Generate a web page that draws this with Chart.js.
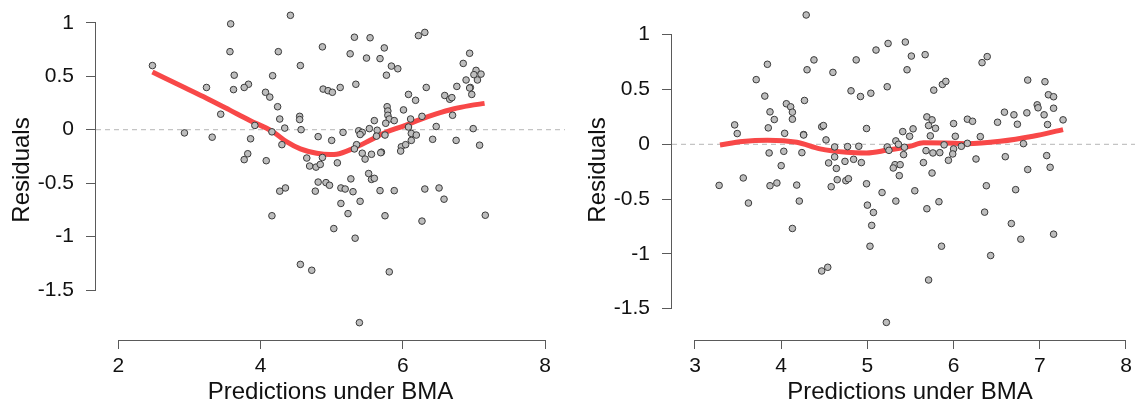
<!DOCTYPE html>
<html>
<head>
<meta charset="utf-8">
<script src="https://cdn.jsdelivr.net/npm/chart.js@4.4.1/dist/chart.umd.min.js"></script>
<style>
  html, body { margin: 0; padding: 0; background: #fff; }
  body { width: 1135px; height: 404px; overflow: hidden; position: relative; }
  canvas { position: absolute; top: 0; }
  #left { left: 0; }
  #right { left: 576px; }
</style>
</head>
<body>
<canvas id="left" width="576" height="404"></canvas>
<canvas id="right" width="588" height="404"></canvas>
<script>
// left panel: residuals vs predictions
const leftX = [2.48,4.42,3.58,3.57,4.25,4.87,4.56,3.63,4.17,3.83,3.77,3.62,3.24,4.07,4.13,4.88,4.95,4.24,3.44,4.55,
  4.55,4.27,3.92,4.34,4.57,4.16,2.93,3.32,3.86,4.81,5.00,4.30,3.82,3.77,4.08,4.65,4.87,4.69,4.78,4.84,
  4.81,4.92,4.97,4.27,4.35,4.77,4.16,4.56,4.72,
  5.32,5.54,5.26,5.74,5.49,5.68,6.22,6.31,5.84,5.93,5.77,6.94,6.85,7.03,7.10,7.00,7.05,6.89,6.95,6.94,
  6.97,5.01,5.12,5.34,6.33,6.76,6.08,6.18,6.59,6.66,6.69,5.78,5.79,5.79,5.81,5.76,5.88,6.01,6.11,6.27,
  5.60,6.70,6.47,6.99,5.16,5.38,5.43,5.40,5.53,5.64,5.75,5.63,6.08,6.12,6.19,6.12,6.42,6.75,7.08,5.35,
  5.32,5.98,5.97,6.04,5.70,5.69,5.43,5.56,5.47,5.08,5.27,5.52,5.56,5.60,5.13,5.19,5.30,5.68,5.88,6.31,
  6.51,6.58,5.13,5.40,5.23,5.75,6.27,7.16,5.03,5.33,5.81,5.39];
const leftY = [0.60,1.07,0.99,0.73,0.73,0.775,0.60,0.51,0.505,0.425,0.395,0.375,0.395,0.35,0.305,0.38,0.365,0.215,0.145,0.125,
  0.095,0.10,0.04,0.015,0.0,-0.02,-0.03,-0.07,-0.085,-0.065,-0.10,-0.14,-0.225,-0.28,-0.29,-0.265,-0.26,-0.34,-0.35,-0.325,
  -0.49,-0.495,-0.52,-0.575,-0.545,-0.575,-0.805,-1.26,-1.315,
  0.865,0.86,0.71,0.765,0.67,0.665,0.88,0.91,0.595,0.57,0.51,0.715,0.62,0.555,0.52,0.515,0.465,0.465,0.395,0.39,
  0.33,0.35,0.395,0.425,0.395,0.405,0.33,0.275,0.32,0.285,0.30,0.215,0.175,0.135,0.10,0.06,0.085,0.185,0.10,0.125,
  0.085,0.135,0.03,0.01,-0.025,-0.01,-0.025,-0.045,0.01,-0.005,-0.05,-0.06,0.025,-0.035,-0.05,-0.10,-0.09,-0.10,-0.145,-0.14,
  -0.18,-0.16,-0.20,-0.14,-0.21,-0.215,-0.22,-0.23,-0.275,-0.31,-0.46,-0.41,-0.465,-0.455,-0.545,-0.555,-0.58,-0.57,-0.57,-0.555,
  -0.545,-0.65,-0.69,-0.67,-0.785,-0.805,-0.855,-0.80,-0.925,-1.015,-1.33,-1.805];
const leftFitX = [2.48,2.93,3.24,3.55,3.85,4.16,4.37,4.56,4.79,4.98,5.07,5.30,5.54,5.77,6.01,6.24,6.47,6.71,6.94,7.15];
const leftFitY = [0.54,0.395,0.295,0.19,0.086,-0.013,-0.115,-0.18,-0.22,-0.232,-0.229,-0.176,-0.099,-0.022,0.034,0.095,0.148,0.194,0.225,0.246];
const leftXTicks = [2, 4, 6, 8];
const leftYTicks = [-1.5, -1, -0.5, 0, 0.5, 1];
const leftXRange = [1.6864, 8.2809];
const leftYRange = [-1.9673, 1.2133];

// right panel
const rightX = [4.29,3.84,3.71,4.38,4.30,4.60,4.87,5.10,5.24,5.44,5.51,5.46,3.81,4.81,4.92,5.04,5.23,4.27,4.06,4.11,
  4.13,4.13,3.87,3.92,3.46,3.49,3.85,4.04,4.26,4.26,4.47,4.49,4.99,4.52,5.41,5.49,4.62,4.77,4.90,5.23,
  5.25,5.33,5.36,5.43,3.86,4.03,4.24,4.62,4.55,4.74,4.84,4.93,4.00,4.64,5.42,5.32,5.38,5.30,5.37,3.56,
  3.28,3.87,3.95,4.18,4.58,4.65,4.75,4.78,4.99,5.17,5.33,3.62,4.21,5.00,5.07,5.05,4.13,5.03,4.47,4.54,5.22,
  5.67,6.33,6.39,5.77,5.87,5.91,6.86,7.06,7.10,7.16,6.97,6.98,7.16,7.05,7.09,7.27,6.59,6.70,6.85,6.74,
  6.51,6.16,6.22,5.69,5.75,5.71,5.79,6.00,6.02,6.31,5.73,5.53,5.89,6.09,6.16,6.81,5.68,5.76,5.84,6.00,
  5.99,5.65,5.94,6.26,6.60,7.08,7.12,6.86,5.75,5.55,6.38,6.72,5.69,5.83,6.36,6.67,6.78,7.16,5.86,6.43,5.71];
const rightY = [1.18,0.73,0.59,0.77,0.68,0.656,0.77,0.86,0.92,0.933,0.805,0.68,0.44,0.488,0.436,0.466,0.525,0.40,0.37,0.342,
  0.293,0.229,0.296,0.226,0.177,0.098,0.15,0.10,0.089,0.085,0.16,0.171,0.144,0.04,0.116,0.073,-0.024,-0.021,-0.018,-0.024,
  -0.055,0.031,0.0,-0.027,-0.079,-0.064,-0.076,-0.115,-0.17,-0.156,-0.137,-0.167,-0.195,-0.22,-0.094,-0.186,-0.186,-0.216,-0.286,-0.307,
  -0.375,-0.378,-0.353,-0.372,-0.387,-0.323,-0.332,-0.314,-0.36,-0.44,-0.518,-0.536,-0.518,-0.555,-0.622,-0.74,-0.768,-0.93,-1.156,-1.122,-1.625,
  0.818,0.745,0.80,0.494,0.546,0.574,0.586,0.571,0.452,0.434,0.36,0.333,0.329,0.269,0.18,0.223,0.293,0.269,0.287,0.183,
  0.201,0.229,0.21,0.25,0.223,0.171,0.146,0.189,0.073,0.07,0.077,0.141,-0.005,-0.018,0.009,0.006,-0.058,-0.079,-0.076,-0.042,
  -0.088,-0.167,-0.146,-0.134,-0.113,-0.103,-0.21,-0.23,-0.262,-0.424,-0.378,-0.414,-0.588,-0.524,-0.619,-0.723,-0.866,-0.82,-0.93,-1.015,-1.238];
const rightFitX = [3.29,3.55,3.84,4.18,4.45,4.76,4.99,5.22,5.49,5.65,5.90,6.15,6.54,6.92,7.27];
const rightFitY = [-0.006,0.025,0.037,0.018,-0.042,-0.073,-0.079,-0.055,-0.018,0.013,0.012,0.006,0.027,0.073,0.134];
const rightXTicks = [3, 4, 5, 6, 7, 8];
const rightYTicks = [-1.5, -1, -0.5, 0, 0.5, 1];
const rightXRange = [2.7332, 8.2554];
const rightYRange = [-1.7856, 1.3166];

const textColor = '#111';
const axisColor = '#5a5a5a';
Chart.defaults.font.family = '"Liberation Sans", Arial, Helvetica, sans-serif';
Chart.defaults.color = textColor;

// R style axes: the line only runs between the first and last tick
const axisLines = {
  id: 'axisLines',
  afterDraw(chart) {
    const ctx = chart.ctx;
    const xs = chart.scales.x, ys = chart.scales.y;
    const left = Math.round(chart.chartArea.left) - 0.5;
    const bottom = Math.round(chart.chartArea.bottom) + 0.5;
    ctx.save();
    ctx.strokeStyle = axisColor;
    ctx.lineWidth = 1;
    ctx.beginPath();
    ctx.moveTo(left, ys.getPixelForValue(ys.ticks[0].value));
    ctx.lineTo(left, ys.getPixelForValue(ys.ticks[ys.ticks.length - 1].value));
    ctx.moveTo(xs.getPixelForValue(xs.ticks[0].value), bottom);
    ctx.lineTo(xs.getPixelForValue(xs.ticks[xs.ticks.length - 1].value), bottom);
    ctx.stroke();
    ctx.restore();
  }
};

function makeChart(id, xs, ys, fitX, fitY, xTicks, yTicks, xRange, yRange, padRight) {
  const pts = xs.map((x, i) => ({x: x, y: ys[i]}));
  const fit = fitX.map((x, i) => ({x: x, y: fitY[i]}));
  return new Chart(document.getElementById(id), {
    type: 'scatter',
    data: {
      datasets: [
        {
          data: pts,
          pointRadius: 3.3,
          pointBackgroundColor: '#bdbdbd',
          pointBorderColor: '#3a3a3a',
          pointBorderWidth: 1,
          clip: false,
          order: 1
        },
        {
          type: 'line',
          data: fit,
          borderColor: '#f84848',
          borderWidth: 5,
          pointRadius: 0,
          cubicInterpolationMode: 'monotone',
          borderCapStyle: 'butt',
          fill: false,
          order: 2
        },
        {
          type: 'line',
          data: [{x: xRange[0], y: 0}, {x: xRange[1], y: 0}],
          borderColor: '#c4c4c4',
          borderWidth: 1.3,
          borderDash: [5, 4],
          pointRadius: 0,
          fill: false,
          order: 3
        }
      ]
    },
    options: {
      responsive: false,
      animation: false,
      events: [],
      layout: { autoPadding: false, padding: { left: 0, right: padRight, top: 0, bottom: 0 } },
      plugins: { legend: { display: false }, tooltip: { enabled: false } },
      scales: {
        x: {
          type: 'linear',
          min: xRange[0],
          max: xRange[1],
          border: { display: false },
          grid: { drawOnChartArea: false, drawTicks: true, tickLength: 9, color: axisColor },
          afterBuildTicks: s => { s.ticks = xTicks.map(v => ({value: v})); },
          afterFit: s => { s.height = 64; s.paddingLeft = 0; s.paddingRight = 0; },
          ticks: { font: { size: 21 }, padding: 5, color: textColor, callback: v => String(v) },
          title: {
            display: true,
            text: 'Predictions under BMA',
            font: { size: 24, lineHeight: 1 },
            padding: { top: 0, bottom: 0 },
            color: textColor
          }
        },
        y: {
          type: 'linear',
          min: yRange[0],
          max: yRange[1],
          border: { display: false },
          grid: { drawOnChartArea: false, drawTicks: true, tickLength: 10, color: axisColor },
          afterBuildTicks: s => { s.ticks = yTicks.map(v => ({value: v})); },
          afterFit: s => { s.width = 96; s.paddingTop = 0; s.paddingBottom = 0; },
          ticks: { font: { size: 21 }, padding: 12, color: textColor, callback: v => String(v) },
          title: {
            display: true,
            text: 'Residuals',
            font: { size: 24, lineHeight: 1 },
            padding: { top: 10.5, bottom: 0 },
            color: textColor
          }
        }
      }
    },
    plugins: [axisLines]
  });
}

makeChart('left', leftX, leftY, leftFitX, leftFitY, leftXTicks, leftYTicks, leftXRange, leftYRange, 11);
makeChart('right', rightX, rightY, rightFitX, rightFitY, rightXTicks, rightYTicks, rightXRange, rightYRange, 16);
</script>
</body>
</html>
